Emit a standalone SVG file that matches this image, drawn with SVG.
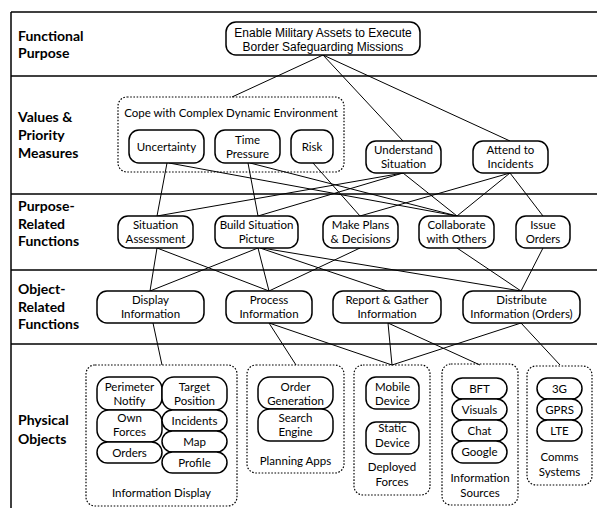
<svg xmlns="http://www.w3.org/2000/svg" width="597" height="508" viewBox="0 0 597 508">
  <style>
    .rule { stroke: #000; stroke-width: 1.5; fill: none; }
    .band { font-family: Lato, "Liberation Sans", sans-serif; font-weight: bold; font-size: 14px; fill: #000; }
    .box { fill: #fff; stroke: #000; stroke-width: 1.5; }
    .grp { fill: none; stroke: #000; stroke-width: 1.2; stroke-dasharray: 1.6 1.6; }
    .t { font-family: Lato, "Liberation Sans", sans-serif; font-size: 11.5px; fill: #000; text-anchor: middle; }
    .ta { font-family: "Liberation Sans", Arial, sans-serif; font-size: 12px; fill: #000; text-anchor: middle; }
    .link { stroke: #000; stroke-width: 1; fill: none; }
  </style>
  <rect width="597" height="508" fill="#fff"/>

  <!-- frame and band separators -->
  <g id="frame">
    <line class="rule" x1="11" y1="12" x2="11" y2="508"/>
    <line class="rule" x1="11" y1="12" x2="597" y2="12"/>
    <line class="rule" x1="11" y1="76" x2="597" y2="76"/>
    <line class="rule" x1="11" y1="194" x2="597" y2="194"/>
    <line class="rule" x1="11" y1="270" x2="597" y2="270"/>
    <line class="rule" x1="11" y1="344" x2="597" y2="344"/>
  </g>

  <!-- band titles -->
  <g id="bands">
    <text class="band" x="18" y="40.5">Functional</text>
    <text class="band" x="18" y="58">Purpose</text>
    <text class="band" x="18" y="122">Values &amp;</text>
    <text class="band" x="18" y="140">Priority</text>
    <text class="band" x="18" y="158">Measures</text>
    <text class="band" x="18" y="211">Purpose-</text>
    <text class="band" x="18" y="229">Related</text>
    <text class="band" x="18" y="246">Functions</text>
    <text class="band" x="18" y="294">Object-</text>
    <text class="band" x="18" y="312">Related</text>
    <text class="band" x="18" y="329">Functions</text>
    <text class="band" x="18" y="425">Physical</text>
    <text class="band" x="18" y="444">Objects</text>
  </g>

  <!-- connectors -->
  <g id="connectors">
    <line class="link" x1="323" y1="55" x2="232" y2="97"/>
    <line class="link" x1="323" y1="55" x2="403" y2="141"/>
    <line class="link" x1="323" y1="55" x2="510" y2="141"/>
    <line class="link" x1="167" y1="163" x2="157" y2="216"/>
    <line class="link" x1="169" y1="163" x2="457" y2="216"/>
    <line class="link" x1="248" y1="163" x2="258" y2="216"/>
    <line class="link" x1="250" y1="163" x2="457" y2="216"/>
    <line class="link" x1="313" y1="163" x2="360" y2="216"/>
    <line class="link" x1="403" y1="173" x2="157" y2="216"/>
    <line class="link" x1="403" y1="173" x2="258" y2="216"/>
    <line class="link" x1="403" y1="173" x2="457" y2="216"/>
    <line class="link" x1="510" y1="173" x2="360" y2="216"/>
    <line class="link" x1="510" y1="173" x2="457" y2="216"/>
    <line class="link" x1="510" y1="173" x2="543" y2="216"/>
    <line class="link" x1="157" y1="248" x2="150" y2="291"/>
    <line class="link" x1="157" y1="248" x2="269" y2="291"/>
    <line class="link" x1="258" y1="248" x2="150" y2="291"/>
    <line class="link" x1="258" y1="248" x2="269" y2="291"/>
    <line class="link" x1="260" y1="248" x2="387" y2="291"/>
    <line class="link" x1="262" y1="248" x2="521" y2="291"/>
    <line class="link" x1="360" y1="248" x2="269" y2="291"/>
    <line class="link" x1="457" y1="248" x2="521" y2="291"/>
    <line class="link" x1="543" y1="248" x2="521" y2="291"/>
    <line class="link" x1="153" y1="323" x2="162" y2="365"/>
    <line class="link" x1="269" y1="323" x2="296" y2="365"/>
    <line class="link" x1="269" y1="323" x2="392" y2="365"/>
    <line class="link" x1="388" y1="323" x2="392" y2="365"/>
    <line class="link" x1="388" y1="323" x2="480" y2="365"/>
    <line class="link" x1="521" y1="323" x2="392" y2="365"/>
    <line class="link" x1="521" y1="323" x2="560" y2="365"/>
  </g>

  <!-- functional purpose -->
  <g id="purpose">
    <rect class="box" x="226" y="22" width="194" height="33" rx="10"/>
    <text class="ta" x="323" y="36.5">Enable Military Assets to Execute</text>
    <text class="ta" x="323" y="51">Border Safeguarding Missions</text>
  </g>

  <!-- values and priority measures -->
  <g id="cope">
    <rect class="grp" x="118" y="97" width="226" height="75" rx="9"/>
    <text class="t" x="231" y="116.5">Cope with Complex Dynamic Environment</text>
  </g>
  <g id="uncertainty">
    <rect class="box" x="129" y="130" width="75" height="33" rx="10"/>
    <text class="t" x="166.5" y="150.5">Uncertainty</text>
  </g>
  <g id="time-pressure">
    <rect class="box" x="215" y="130" width="65" height="33" rx="10"/>
    <text class="t" x="247.5" y="144">Time</text>
    <text class="t" x="247.5" y="158">Pressure</text>
  </g>
  <g id="risk">
    <rect class="box" x="291" y="130" width="42" height="33" rx="10"/>
    <text class="t" x="312" y="150.5">Risk</text>
  </g>
  <g id="understand-situation">
    <rect class="box" x="366" y="141" width="75" height="32" rx="10"/>
    <text class="t" x="403.5" y="154">Understand</text>
    <text class="t" x="403.5" y="168">Situation</text>
  </g>
  <g id="attend-incidents">
    <rect class="box" x="473" y="141" width="75" height="32" rx="10"/>
    <text class="t" x="510.5" y="154">Attend to</text>
    <text class="t" x="510.5" y="168">Incidents</text>
  </g>

  <!-- purpose-related functions -->
  <g id="situation-assessment">
    <rect class="box" x="118" y="216" width="75" height="32" rx="10"/>
    <text class="t" x="155.5" y="229">Situation</text>
    <text class="t" x="155.5" y="243">Assessment</text>
  </g>
  <g id="build-picture">
    <rect class="box" x="215" y="216" width="83" height="32" rx="10"/>
    <text class="t" x="256.5" y="229">Build Situation</text>
    <text class="t" x="256.5" y="243">Picture</text>
  </g>
  <g id="make-plans">
    <rect class="box" x="323" y="216" width="75" height="32" rx="10"/>
    <text class="t" x="360.5" y="229">Make Plans</text>
    <text class="t" x="360.5" y="243">&amp; Decisions</text>
  </g>
  <g id="collaborate">
    <rect class="box" x="419" y="216" width="75" height="32" rx="10"/>
    <text class="t" x="456.5" y="229">Collaborate</text>
    <text class="t" x="456.5" y="243">with Others</text>
  </g>
  <g id="issue-orders">
    <rect class="box" x="516" y="216" width="54" height="32" rx="10"/>
    <text class="t" x="543" y="229">Issue</text>
    <text class="t" x="543" y="243">Orders</text>
  </g>

  <!-- object-related functions -->
  <g id="display-information">
    <rect class="box" x="97" y="291" width="107" height="32" rx="10"/>
    <text class="t" x="150.5" y="304">Display</text>
    <text class="t" x="150.5" y="318">Information</text>
  </g>
  <g id="process-information">
    <rect class="box" x="226" y="291" width="86" height="32" rx="10"/>
    <text class="t" x="269" y="304">Process</text>
    <text class="t" x="269" y="318">Information</text>
  </g>
  <g id="report-gather">
    <rect class="box" x="333" y="291" width="108" height="32" rx="10"/>
    <text class="t" x="387" y="304">Report &amp; Gather</text>
    <text class="t" x="387" y="318">Information</text>
  </g>
  <g id="distribute-information">
    <rect class="box" x="463" y="291" width="117" height="32" rx="10"/>
    <text class="t" x="521.5" y="304">Distribute</text>
    <text class="t" x="521.5" y="318">Information (Orders)</text>
  </g>

  <!-- physical objects -->
  <g id="information-display">
    <rect class="grp" x="86" y="365" width="151" height="141" rx="9"/>
    <rect class="box" x="97" y="377" width="65" height="33" rx="12"/>
    <text class="t" x="129.5" y="391">Perimeter</text>
    <text class="t" x="129.5" y="405">Notify</text>
    <rect class="box" x="162" y="377" width="65" height="33" rx="12"/>
    <text class="t" x="194.5" y="391">Target</text>
    <text class="t" x="194.5" y="405">Position</text>
    <rect class="box" x="97" y="410" width="65" height="32" rx="12"/>
    <text class="t" x="129.5" y="422">Own</text>
    <text class="t" x="129.5" y="436">Forces</text>
    <rect class="box" x="97" y="442" width="65" height="21" rx="10.5"/>
    <text class="t" x="129.5" y="456.5">Orders</text>
    <rect class="box" x="162" y="410" width="65" height="21" rx="10.5"/>
    <text class="t" x="194.5" y="424.5">Incidents</text>
    <rect class="box" x="162" y="431" width="65" height="21" rx="10.5"/>
    <text class="t" x="194.5" y="446">Map</text>
    <rect class="box" x="162" y="452" width="65" height="21" rx="10.5"/>
    <text class="t" x="194.5" y="467">Profile</text>
    <text class="t" x="161.5" y="497">Information Display</text>
  </g>
  <g id="planning-apps">
    <rect class="grp" x="247" y="365" width="97" height="108" rx="9"/>
    <rect class="box" x="258" y="377" width="75" height="32" rx="12"/>
    <text class="t" x="295.5" y="391">Order</text>
    <text class="t" x="295.5" y="405">Generation</text>
    <rect class="box" x="258" y="409" width="75" height="32" rx="12"/>
    <text class="t" x="295.5" y="422">Search</text>
    <text class="t" x="295.5" y="436">Engine</text>
    <text class="t" x="295.5" y="464.5">Planning Apps</text>
  </g>
  <g id="deployed-forces">
    <rect class="grp" x="354" y="365" width="76" height="130" rx="9"/>
    <rect class="box" x="366" y="377" width="53" height="32" rx="10"/>
    <text class="t" x="392.5" y="391">Mobile</text>
    <text class="t" x="392.5" y="405">Device</text>
    <rect class="box" x="366" y="422" width="53" height="32" rx="10"/>
    <text class="t" x="392.5" y="432">Static</text>
    <text class="t" x="392.5" y="447">Device</text>
    <text class="t" x="392" y="471">Deployed</text>
    <text class="t" x="392" y="486">Forces</text>
  </g>
  <g id="information-sources">
    <rect class="grp" x="442" y="364" width="76" height="141" rx="9"/>
    <rect class="box" x="452" y="378" width="55" height="21" rx="10.5"/>
    <text class="t" x="479.5" y="392.5">BFT</text>
    <rect class="box" x="452" y="399" width="55" height="21" rx="10.5"/>
    <text class="t" x="479.5" y="413.5">Visuals</text>
    <rect class="box" x="452" y="420" width="55" height="21" rx="10.5"/>
    <text class="t" x="479.5" y="434.5">Chat</text>
    <rect class="box" x="452" y="441" width="55" height="22" rx="11"/>
    <text class="t" x="479.5" y="456">Google</text>
    <text class="t" x="480" y="482">Information</text>
    <text class="t" x="480" y="497">Sources</text>
  </g>
  <g id="comms-systems">
    <rect class="grp" x="527" y="366" width="65" height="119" rx="9"/>
    <rect class="box" x="537" y="378" width="45" height="21" rx="10.5"/>
    <text class="t" x="559.5" y="392.5">3G</text>
    <rect class="box" x="537" y="399" width="45" height="21" rx="10.5"/>
    <text class="t" x="559.5" y="413.5">GPRS</text>
    <rect class="box" x="537" y="420" width="45" height="21" rx="10.5"/>
    <text class="t" x="559.5" y="434.5">LTE</text>
    <text class="t" x="559.5" y="461">Comms</text>
    <text class="t" x="559.5" y="476">Systems</text>
  </g>
</svg>
